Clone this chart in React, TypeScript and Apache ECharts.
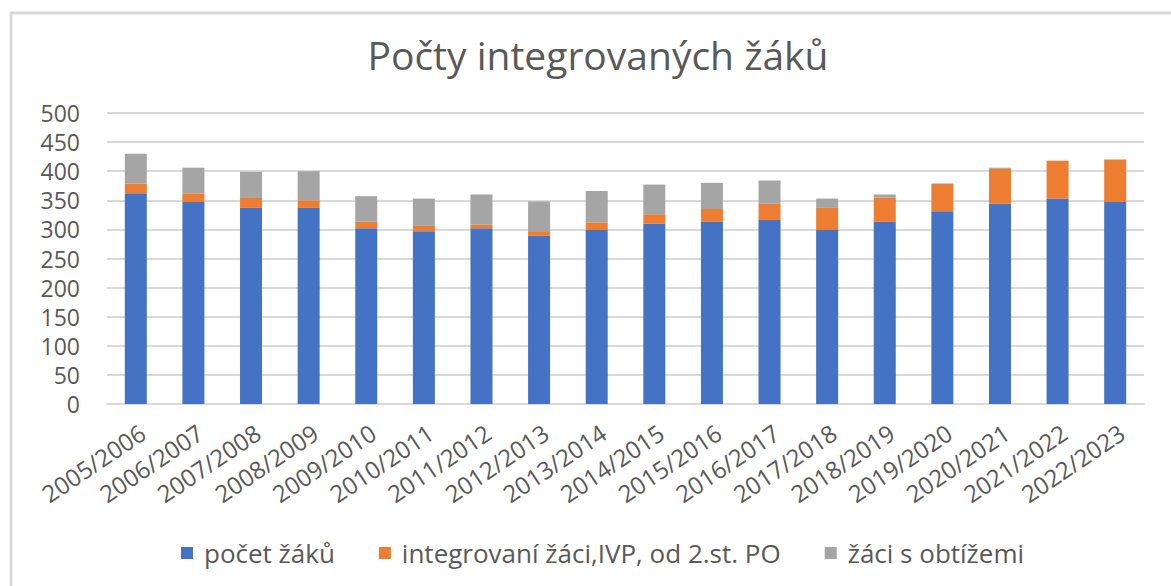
import React, { useEffect, useRef } from "react";
import * as echarts from "echarts";

const categories = [
  "2005/2006", "2006/2007", "2007/2008", "2008/2009", "2009/2010", "2010/2011",
  "2011/2012", "2012/2013", "2013/2014", "2014/2015", "2015/2016", "2016/2017",
  "2017/2018", "2018/2019", "2019/2020", "2020/2021", "2021/2022", "2022/2023",
];
const pocetZaku = [362, 347, 337, 337, 302, 297, 302, 289, 299, 310, 313, 316, 299, 313, 331, 344, 353, 347];
const integrovaniZaci = [17, 15, 17, 13, 11, 9, 6, 8, 13, 16, 22, 28, 38, 42, 47, 60, 65, 73];
const zaciSObtizemi = [51, 44, 45, 50, 44, 47, 52, 51, 54, 51, 45, 40, 16, 5, 1, 2, 0, 0];
const seriesNames = ["počet žáků", "integrovaní žáci,IVP, od 2.st. PO", "žáci s obtížemi"];
const yTicks = { min: 0, max: 500, interval: 50 };

const FONT = "'Open Sans', 'Noto Sans', sans-serif";
const TEXT = "#595959";
const GRID = "#d9d9d9";

export default function App() {
  const ref = useRef<HTMLDivElement>(null);
  useEffect(() => {
    if (!ref.current) return;
    const chart = echarts.init(ref.current, undefined, { renderer: "svg" });
    chart.setOption({
      animation: false,
      backgroundColor: "#ffffff",
      textStyle: { fontFamily: FONT },
      title: {
        text: "Počty integrovaných žáků",
        left: 593,
        textAlign: "center",
        top: 30,
        textStyle: { fontFamily: FONT, fontSize: 39, fontWeight: "normal", color: TEXT },
      },
      graphic: [
        { type: "line", shape: { x1: 11, y1: 13, x2: 11, y2: 586 }, style: { stroke: GRID, lineWidth: 3 } },
        { type: "line", shape: { x1: 10, y1: 13, x2: 1171, y2: 13 }, style: { stroke: GRID, lineWidth: 3 } },
      ],
      legend: {
        left: 176,
        top: 535,
        icon: "rect",
        itemWidth: 12,
        itemHeight: 12,
        itemGap: 44,
        textStyle: { fontFamily: FONT, fontSize: 26, color: TEXT, padding: [0, 0, 0, 6] },
        data: seriesNames,
      },
      grid: { left: 107, right: 27, top: 113, bottom: 182, containLabel: false },
      xAxis: {
        type: "category",
        data: categories,
        axisLine: { lineStyle: { color: GRID, width: 2 } },
        axisTick: { show: false },
        axisLabel: {
          interval: 0,
          rotate: 34,
          margin: 16,
          fontFamily: FONT,
          fontSize: 24,
          color: TEXT,
          align: "right",
          verticalAlign: "top",
        },
      },
      yAxis: {
        type: "value",
        min: yTicks.min,
        max: yTicks.max,
        interval: yTicks.interval,
        axisLine: { show: false },
        axisTick: { show: false },
        axisLabel: { fontFamily: FONT, fontSize: 23, color: TEXT, margin: 27 },
        splitLine: { lineStyle: { color: GRID, width: 2 } },
      },
      series: [
        { name: seriesNames[0], type: "bar", stack: "total", barWidth: 22, data: pocetZaku, itemStyle: { color: "#4472C4" } },
        { name: seriesNames[1], type: "bar", stack: "total", barWidth: 22, data: integrovaniZaci, itemStyle: { color: "#ED7D31" } },
        { name: seriesNames[2], type: "bar", stack: "total", barWidth: 22, data: zaciSObtizemi, itemStyle: { color: "#A5A5A5" } },
      ],
    });
    return () => chart.dispose();
  }, []);
  return (
    <div
      ref={ref}
      style={{ position: "absolute", left: 0, top: 0, width: 1171, height: 586 }}
    />
  );
}
